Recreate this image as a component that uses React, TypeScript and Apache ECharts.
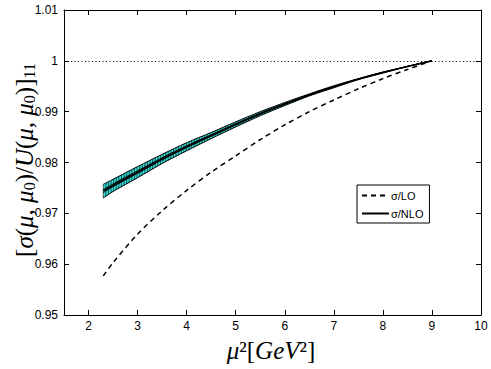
import React, { useEffect, useRef } from "react";
import * as echarts from "echarts";

const xTicks = [2, 3, 4, 5, 6, 7, 8, 9, 10];
const yTicks = [0.95, 0.96, 0.97, 0.98, 0.99, 1.0, 1.01];

const muSq = [2.3, 2.5, 3, 3.5, 4, 4.5, 5, 5.5, 6, 6.5, 7, 7.5, 8, 8.5, 9];
const loRatio = [0.9577, 0.9603, 0.9659, 0.9705, 0.9745, 0.9781, 0.9813, 0.9845, 0.9874, 0.99, 0.9923, 0.9945, 0.9965, 0.9983, 1.0];
const nloRatio = [0.9744, 0.9755, 0.9781, 0.9807, 0.9831, 0.9853, 0.9875, 0.9896, 0.9915, 0.9933, 0.9949, 0.9964, 0.9977, 0.9989, 1.0];
const nloHigh = [0.9757, 0.9767, 0.9792, 0.9816, 0.9839, 0.9859, 0.988, 0.99, 0.9918, 0.9935, 0.9951, 0.9965, 0.9978, 0.9989, 1.0];
const nloLow = [0.9730, 0.9743, 0.977, 0.9798, 0.9823, 0.9847, 0.987, 0.9892, 0.9912, 0.9931, 0.9947, 0.9963, 0.9976, 0.9989, 1.0];

function interpAt(pts: number[][], px: number) {
  for (let i = 0; i < pts.length - 1; i++) {
    const a = pts[i], b = pts[i + 1];
    if (px >= a[0] && px <= b[0]) {
      const t = b[0] === a[0] ? 0 : (px - a[0]) / (b[0] - a[0]);
      return a[1] + t * (b[1] - a[1]);
    }
  }
  return pts[pts.length - 1][1];
}

export default function App() {
  const ref = useRef<HTMLDivElement>(null);
  useEffect(() => {
    if (!ref.current) return;
    const chart = echarts.init(ref.current, undefined, { renderer: "svg" });
    const axisFont = { fontFamily: "Liberation Sans", fontSize: 12, color: "#000" };
    const option: any = {
      animation: false,
      backgroundColor: "#fff",
      grid: { left: 64, top: 10, right: 10, bottom: 54, containLabel: false },
      xAxis: [
        {
          type: "value", min: 1.5, max: 10, position: "bottom",
          axisLine: { show: true, onZero: false, lineStyle: { color: "#000", width: 1 } },
          axisTick: { show: true, inside: true, length: 5, customValues: xTicks, lineStyle: { color: "#000" } },
          axisLabel: { ...axisFont, margin: 5, customValues: xTicks, formatter: (v: number) => String(v) },
          splitLine: { show: false },
        },
        {
          type: "value", min: 1.5, max: 10, position: "top",
          axisLine: { show: true, onZero: false, lineStyle: { color: "#000", width: 1 } },
          axisTick: { show: true, inside: true, length: 5, customValues: xTicks, lineStyle: { color: "#000" } },
          axisLabel: { show: false },
          splitLine: { show: false },
        },
      ],
      yAxis: [
        {
          type: "value", min: 0.95, max: 1.01, position: "left",
          axisLine: { show: true, onZero: false, lineStyle: { color: "#000", width: 1 } },
          axisTick: { show: true, inside: true, length: 5, customValues: yTicks, lineStyle: { color: "#000" } },
          axisLabel: { ...axisFont, margin: 6, customValues: yTicks, formatter: (v: number) => String(parseFloat(v.toFixed(2))) },
          splitLine: { show: false },
        },
        {
          type: "value", min: 0.95, max: 1.01, position: "right",
          axisLine: { show: true, onZero: false, lineStyle: { color: "#000", width: 1 } },
          axisTick: { show: true, inside: true, length: 5, customValues: yTicks, lineStyle: { color: "#000" } },
          axisLabel: { show: false },
          splitLine: { show: false },
        },
      ],
      legend: {
        data: ["σ/LO", "σ/NLO"],
        orient: "vertical",
        left: 357, top: 185,
        borderColor: "#000", borderWidth: 1, borderRadius: 0,
        padding: [5, 6, 4, 4],
        itemGap: 7, itemWidth: 27, itemHeight: 10,
        backgroundColor: "#fff",
        itemStyle: { opacity: 0 },
        textStyle: { fontFamily: "Liberation Sans", fontSize: 11, color: "#000", padding: [0, 0, 0, -3] },
      },
      series: [
        {
          type: "custom",
          name: "band",
          xAxisIndex: 0, yAxisIndex: 0,
          data: [[muSq[0], nloRatio[0]]],
          silent: true,
          z: 2,
          renderItem: (params: any, api: any) => {
            const top = muSq.map((x, i) => api.coord([x, nloHigh[i]]));
            const bot = muSq.map((x, i) => api.coord([x, nloLow[i]]));
            const mid1 = muSq.map((x, i) => api.coord([x, nloLow[i] + 0.4 * (nloHigh[i] - nloLow[i])]));
            const mid2 = muSq.map((x, i) => api.coord([x, nloLow[i] + 0.62 * (nloHigh[i] - nloLow[i])]));
            const children: any[] = [];
            children.push({
              type: "polygon",
              shape: { points: top.concat(bot.slice().reverse()) },
              style: { fill: "#33dcd6", stroke: "none" },
            });
            const x0 = top[0][0], x1 = top[top.length - 1][0];
            for (let px = x0; px <= x1; px += 2.6) {
              const yt = interpAt(top, px), yb = interpAt(bot, px);
              children.push({
                type: "line",
                shape: { x1: px, y1: yt, x2: px, y2: yb },
                style: { stroke: "#000", lineWidth: 0.6 },
              });
            }
            for (const pts of [top, bot, mid1, mid2]) {
              children.push({
                type: "polyline",
                shape: { points: pts, smooth: 0.3 },
                style: { stroke: "#000", lineWidth: 1, fill: "none" },
              });
            }
            return { type: "group", children };
          },
        },
        {
          type: "line",
          name: "σ/LO",
          data: muSq.map((x, i) => [x, loRatio[i]]),
          smooth: 0.3,
          symbol: "none",
          z: 3,
          lineStyle: { color: "#000", width: 1.5, type: [5, 4] },
          itemStyle: { color: "#000" },
          markLine: {
            silent: true,
            symbol: "none",
            label: { show: false },
            lineStyle: { color: "#000", width: 1, type: [1, 2.5] },
            data: [{ yAxis: 1 }],
          },
        },
        {
          type: "line",
          name: "σ/NLO",
          data: muSq.map((x, i) => [x, nloRatio[i]]),
          smooth: 0.3,
          symbol: "none",
          z: 4,
          lineStyle: { color: "#000", width: 1.5 },
          itemStyle: { color: "#000" },
        },
      ],
      graphic: [
        {
          type: "text",
          x: 24, y: 160,
          rotation: Math.PI / 2,
          style: {
            text: "[{i|σ}({i|μ}, {i|μ}{s|0})/{i|U}({i|μ}, {i|μ}{s|0})]{s|11}",
            fontFamily: "Liberation Serif",
            fontSize: 25,
            fill: "#000",
            align: "center",
            verticalAlign: "middle",
            rich: {
              i: { fontFamily: "Liberation Serif", fontStyle: "italic", fontSize: 25, fill: "#000" },
              s: { fontFamily: "Liberation Serif", fontSize: 16, fill: "#000", verticalAlign: "bottom", padding: [11, 0, 0, 0] },
            },
          },
        },
        {
          type: "text",
          x: 271, y: 350,
          style: {
            text: "{i|μ}²[{i|GeV}²]",
            fontFamily: "Liberation Serif",
            fontSize: 25,
            fill: "#000",
            align: "center",
            verticalAlign: "middle",
            rich: {
              i: { fontFamily: "Liberation Serif", fontStyle: "italic", fontSize: 25, fill: "#000" },
            },
          },
        },
      ],
    };
    chart.setOption(option);
    return () => chart.dispose();
  }, []);
  return <div ref={ref} style={{ width: 491, height: 369, position: "absolute", left: 0, top: 0 }} />;
}
